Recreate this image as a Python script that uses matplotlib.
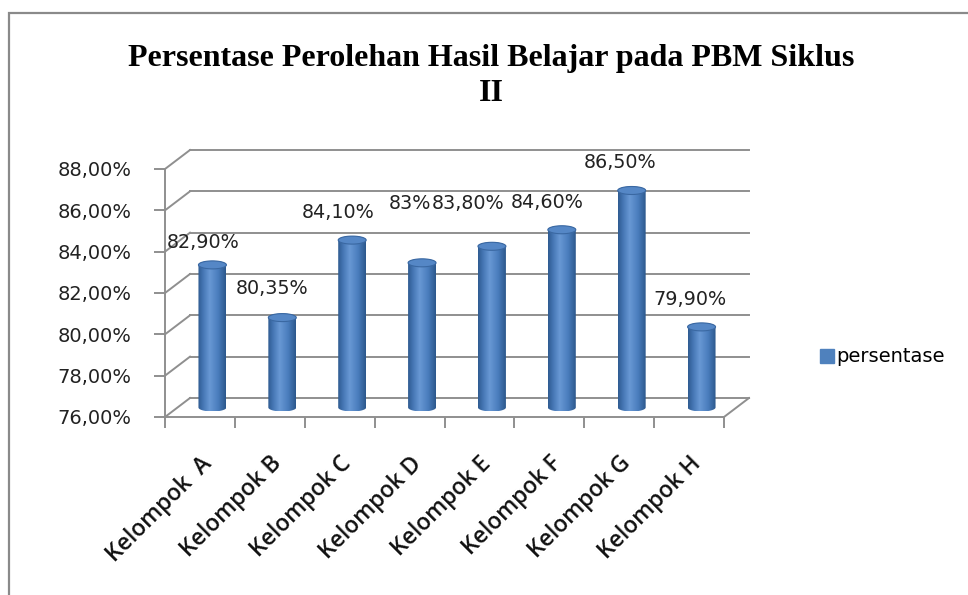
import numpy as np
import matplotlib
matplotlib.use("Agg")
import matplotlib.pyplot as plt
from matplotlib.colors import LinearSegmentedColormap
from matplotlib.patches import Polygon, Rectangle, Patch

# --- Datos ---
kelompok = ["Kelompok  A", "Kelompok B", "Kelompok C", "Kelompok D",
            "Kelompok E", "Kelompok F", "Kelompok G", "Kelompok H"]
persentase = [82.90, 80.35, 84.10, 83.00, 83.80, 84.60, 86.50, 79.90]
etiquetas = ["82,90%", "80,35%", "84,10%", "83%", "83,80%", "84,60%", "86,50%", "79,90%"]
y_ticks = [76, 78, 80, 82, 84, 86, 88]

titulo = "Persentase Perolehan Hasil Belajar pada PBM Siklus\nII"
serie = "persentase"

# --- Estilo ---
W, H = 968, 595
GRID = "#8f8f8f"
# desplazamiento de las etiquetas respecto a la tapa del cilindro (pixeles)
label_off = [(-9, 18), (-10, 25), (-14, 24), (-12, 55), (-24, 39), (-15, 23), (-12, 24), (-12, 23)]

fig = plt.figure(figsize=(W / 100, H / 100), dpi=100)
ax = fig.add_axes([165 / W, 1 - 417 / H, (724 - 165) / W, (417 - 169) / H])
ax.set_xlim(-0.5, len(kelompok) - 0.5)
ax.set_ylim(y_ticks[0], y_ticks[-1])

# profundidad 3D en unidades de datos
px_x = (724 - 165) / len(kelompok)
px_y = (417 - 169) / (y_ticks[-1] - y_ticks[0])
ddx = 25 / px_x
ddy = 19 / px_y
x0, x1 = -0.5, len(kelompok) - 0.5

# pared trasera y lateral
for v in y_ticks:
    ax.plot([x0 + ddx, x1 + ddx], [v + ddy, v + ddy], color=GRID, lw=1.4, clip_on=False, zorder=1)
    ax.plot([x0, x0 + ddx], [v, v + ddy], color=GRID, lw=1.4, clip_on=False, zorder=1)
ax.plot([x1, x1 + ddx], [y_ticks[0], y_ticks[0] + ddy], color=GRID, lw=1.4, clip_on=False, zorder=1)

# cilindros
cmap = LinearSegmentedColormap.from_list(
    "cyl", [(0, "#2f5b91"), (0.18, "#4576b4"), (0.42, "#6898d4"), (0.72, "#4a7dbd"), (1, "#2c588c")])
grad = np.linspace(0, 1, 200).reshape(1, -1)
bw = 0.40
eh = 4 / px_y
t = np.linspace(0, np.pi, 40)
for i, v in enumerate(persentase):
    cx = i + ddx / 2
    yb = y_ticks[0] + ddy / 2
    yt = v + ddy / 2
    lower = np.column_stack([cx - bw / 2 * np.cos(t), yb - eh * np.sin(t)])
    upper = np.column_stack([cx + bw / 2 * np.cos(t), yt + eh * np.sin(t)])
    poly = Polygon(np.vstack([lower, upper]), closed=True, fc="none", ec="none")
    ax.add_patch(poly)
    im = ax.imshow(grad, cmap=cmap, aspect="auto", zorder=3,
                   extent=[cx - bw / 2, cx + bw / 2, yb - eh, yt + eh])
    im.set_clip_path(poly)
    tt = np.linspace(0, 2 * np.pi, 80)
    ax.fill(cx + bw / 2 * np.cos(tt), yt + eh * np.sin(tt), fc="#5587c6", ec="#3a68a2",
            lw=0.8, zorder=4)
    ax.annotate(etiquetas[i], (cx, yt + eh), xytext=label_off[i], textcoords="offset pixels",
                ha="center", va="center", fontsize=13.8, color="#222222", zorder=5,
                annotation_clip=False)

ax.set_xlim(x0, x1)
ax.set_ylim(y_ticks[0], y_ticks[-1])

# ejes
for s in ["top", "right"]:
    ax.spines[s].set_visible(False)
for s in ["left", "bottom"]:
    ax.spines[s].set_color(GRID)
    ax.spines[s].set_linewidth(1.4)
ax.set_facecolor("none")

ax.set_yticks(y_ticks)
ax.set_yticklabels([f"{v:.2f}%".replace(".", ",") for v in y_ticks])
ax.tick_params(axis="y", length=8, width=1.4, color=GRID, pad=16, labelsize=14, labelcolor="#222222")

ax.set_xticks(np.arange(len(kelompok) + 1) - 0.5)
ax.set_xticklabels([])
ax.tick_params(axis="x", which="major", length=8, width=1.4, color=GRID)
ax.set_xticks(np.arange(len(kelompok)), minor=True)
ax.set_xticklabels(kelompok, minor=True, rotation=45, ha="right", rotation_mode="anchor",
                   fontsize=16.5, family="Open Sans", fontweight="semibold", color="#111111")
ax.tick_params(axis="x", which="minor", length=0, pad=25)

# titulo
fig.text(491 / W, 1 - 76 / H, titulo, ha="center", va="center", multialignment="center",
         fontsize=23, fontweight="bold", family="Liberation Serif", linespacing=1.27)

# leyenda
fig.legend(handles=[Patch(fc="#4f81bd", ec="#4f81bd", label=serie)],
           loc="center left", bbox_to_anchor=(812 / W, 1 - 357 / H), frameon=False,
           fontsize=14, handlelength=0.75, handleheight=0.75, handletextpad=0.1,
           borderaxespad=0)

# marco
fig.patches.append(Rectangle((9 / W, -0.1), 1.2, 1.1 - 13 / H, transform=fig.transFigure,
                             fill=False, ec="#8a8a8a", lw=1.6))

fig.savefig("out.png", dpi=100, facecolor="white")
